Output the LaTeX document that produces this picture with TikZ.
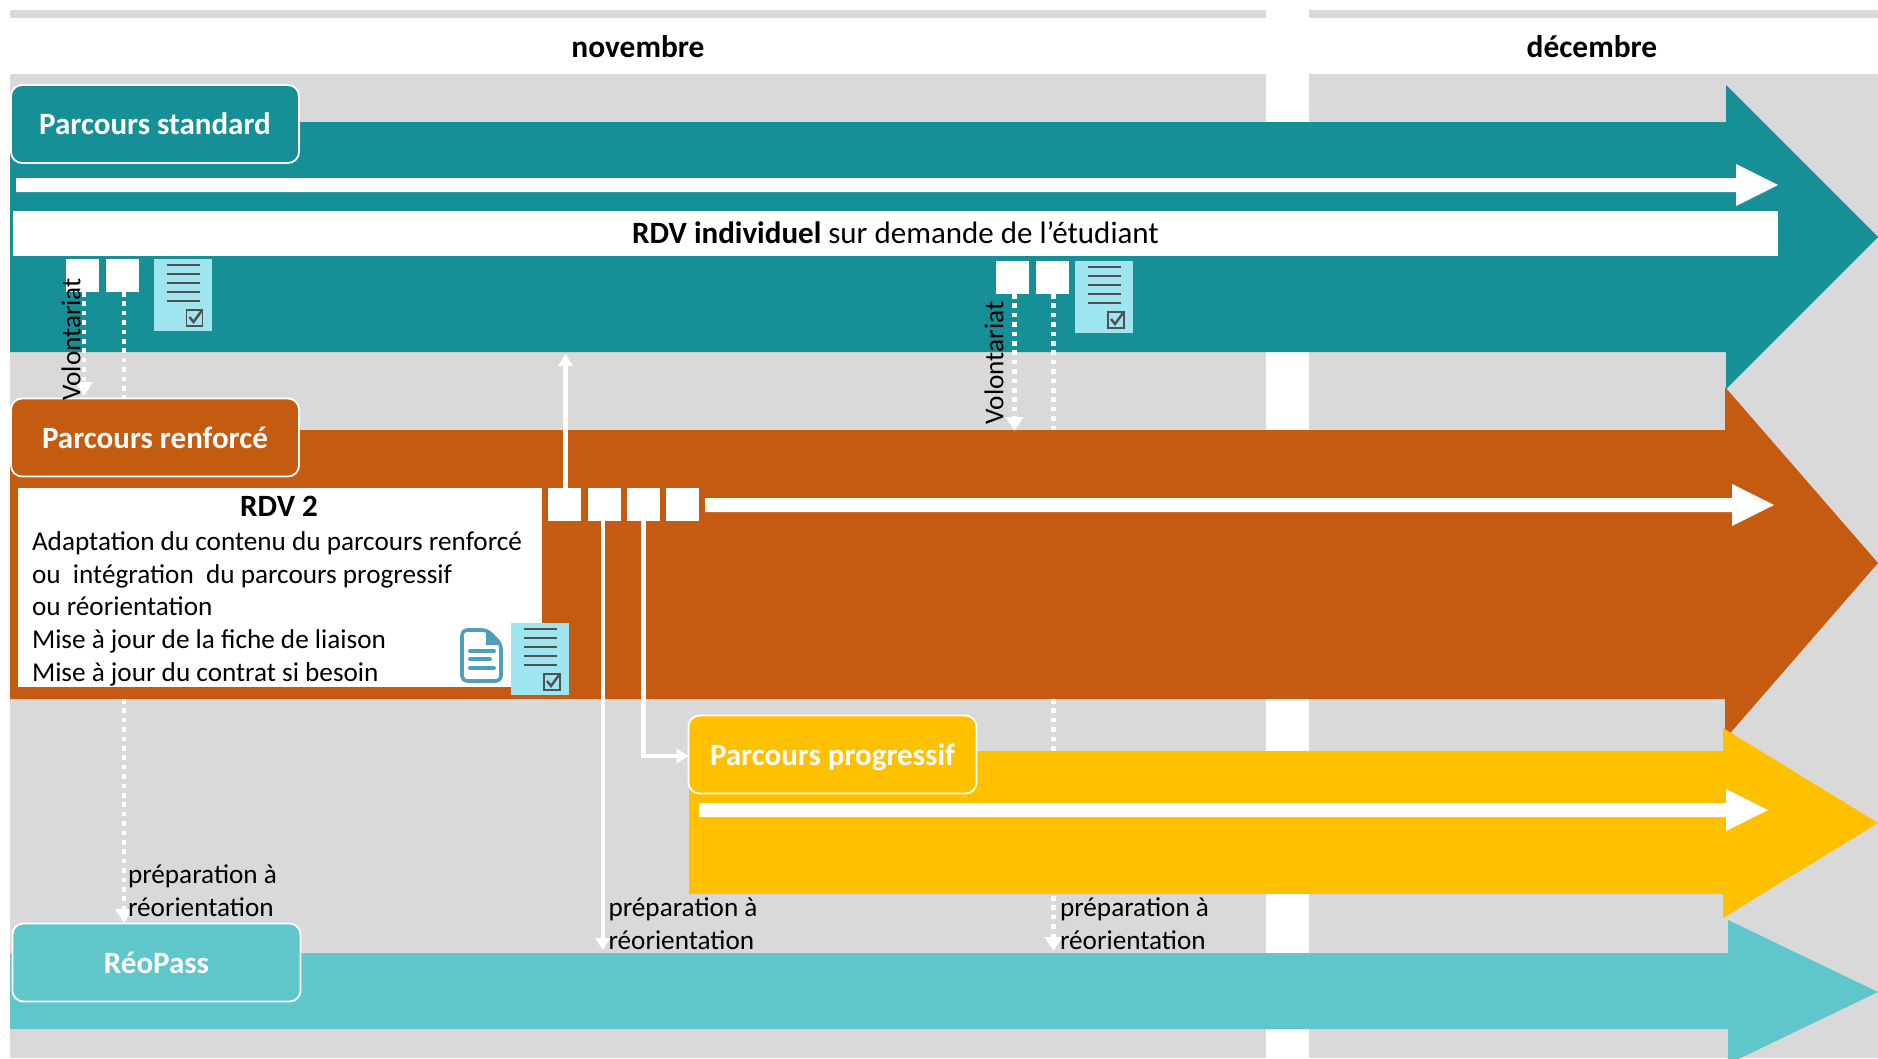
\documentclass[tikz,border=0pt]{standalone}
\usepackage{fontspec}
\setmainfont{Carlito}
\usetikzlibrary{arrows.meta}
\definecolor{tealA}{HTML}{178F96}
\definecolor{orangeA}{HTML}{C55A11}
\definecolor{yellowA}{HTML}{FFC000}
\definecolor{tealB}{HTML}{5FC6CC}
\definecolor{greyA}{HTML}{D9D9D9}
\definecolor{sheetA}{HTML}{9FE5F0}
\definecolor{inkA}{HTML}{505050}
\definecolor{iconA}{HTML}{4F9FB8}
\tikzset{
  x=1pt,y=-1pt,
  body/.style={inner sep=0,outer sep=0,anchor=base west,font=\fontsize{27.2}{30}\selectfont,text=black},
  month/.style={inner sep=0,outer sep=0,font=\fontsize{31.4}{34}\selectfont\bfseries,text=black},
  tag/.style={draw=white,line width=1.8pt,rounded corners=11pt,minimum width=288pt,minimum height=78pt,inner sep=0,outer sep=0,text=white,font=\fontsize{31}{34}\selectfont\bfseries},
  sq/.style={fill=white,minimum width=33pt,minimum height=33pt,inner sep=0,outer sep=0},
  dots/.style={draw=white,line width=4.6pt,dash pattern=on 4.6pt off 4.8pt},
  solidl/.style={draw=white,line width=4.4pt},
  tipped/.style={-{Triangle[length=14pt,width=17pt]}},
  vol/.style={rotate=90,inner sep=0,outer sep=0,font=\fontsize{27.2}{30}\selectfont,text=black},
  docsheet/.pic={
    \fill[sheetA] (0,0) rectangle (58,72);
    \foreach \yy in {6,15,24,33,42}
      \draw[inkA,line width=2.2pt] (13,\yy) -- (46,\yy);
    \draw[inkA,line width=1.9pt] (33,51) rectangle (49,67);
    \draw[inkA,line width=2.4pt] (36,58) -- (40,63) -- (48,52);
  }
}
\begin{document}
\begin{tikzpicture}
\useasboundingbox (0,0) rectangle (1878,1058);
\fill[white] (0,0) rectangle (1878,1058);
% grey bands
\fill[greyA] (10,10) rectangle (1266,18);
\fill[greyA] (1309,10) rectangle (1878,18);
\fill[greyA] (10,74) rectangle (1266,1058);
\fill[greyA] (1309,74) rectangle (1878,1058);
\node[month] (nov) at (638,47) {novembre};
\node[month] (dec) at (1592,47) {décembre};
% big arrows
\fill[orangeA] (10,430) -- (1725,430) -- (1725,387) -- (1878,563) -- (1725,739) -- (1725,699) -- (10,699) -- cycle;
\fill[tealA] (10,122) -- (1726,122) -- (1726,85) -- (1878,237) -- (1726,389) -- (1726,352) -- (10,352) -- cycle;
\fill[yellowA] (689,751) -- (1723,751) -- (1723,728) -- (1878,823) -- (1723,918) -- (1723,894) -- (689,894) -- cycle;
\fill[tealB] (10,953) -- (1728,953) -- (1728,920) -- (1878,992) -- (1728,1064) -- (1728,1029) -- (10,1029) -- cycle;
% white inner arrows
\fill[white] (16,178) -- (1736,178) -- (1736,164) -- (1778,185) -- (1736,206) -- (1736,192) -- (16,192) -- cycle;
\fill[white] (705,498) -- (1732,498) -- (1732,484) -- (1774,505) -- (1732,526) -- (1732,512) -- (705,512) -- cycle;
\fill[white] (699,803) -- (1726,803) -- (1726,789) -- (1768,810) -- (1726,831) -- (1726,817) -- (699,817) -- cycle;
% RDV band
\node[fill=white,minimum width=1765pt,minimum height=45pt,inner sep=0,outer sep=0,font=\fontsize{31}{34}\selectfont] (rdv) at (895.5,233) {\textbf{RDV individuel} sur demande de l’étudiant};
% squares
\node[sq] (a1) at (82,275.5) {};
\node[sq] (a2) at (122.5,275.5) {};
\node[sq] (b1) at (1012.5,277.5) {};
\node[sq] (b2) at (1052.5,277.5) {};
\node[sq] (c1) at (564.5,504.5) {};
\node[sq] (c2) at (604,504.5) {};
\node[sq] (c3) at (643.5,504.5) {};
\node[sq] (c4) at (682,504.5) {};
\pic at (153.5,259) {docsheet};
\pic at (1075,261) {docsheet};
% end points
\coordinate (e1) at (84,396);
\coordinate (e2) at (124,399);
\coordinate (e3) at (1014.5,431);
\coordinate (e4) at (1053.5,430);
\coordinate (e5) at (565.5,354);
\coordinate (e6) at (602.7,950);
\coordinate (e7) at (643.5,756);
\coordinate (f1) at (124,699);
\coordinate (f2) at (124,923);
\coordinate (f3) at (1053.5,699);
\coordinate (f4) at (1053.5,751);
\coordinate (f5) at (1053.5,896);
\coordinate (f6) at (1053.5,951);
% dotted connectors
\draw[dots,tipped] (e1 |- a1.south) -- (e1);
\draw[dots] (e2 |- a2.south) -- (e2);
\draw[dots,tipped] (e3 |- b1.south) -- (e3);
\draw[dots] (e4 |- b2.south) -- (e4);
\draw[dots,tipped] (f1) -- (f2);
\draw[dots] (f3) -- (f4);
\draw[dots,tipped] (f5) -- (f6);
% solid connectors
\draw[solidl,-{Triangle[length=12pt,width=14pt]}] (e5 |- c1.north) -- (e5);
\draw[solidl,-{Triangle[length=12pt,width=14pt]}] (e6 |- c2.south) -- (e6);
% RDV 2 box
\node[fill=white,minimum width=524pt,minimum height=199pt,inner sep=0,outer sep=0] (rdvb) at (280,587.5) {};
\node[inner sep=0,outer sep=0,font=\fontsize{31}{34}\selectfont\bfseries] (rdvt) at (279,506.5) {RDV 2};
\node[body] (l1) at (32,550) {Adaptation du contenu du parcours renforcé};
\node[body] (l2) at (32,583) {ou~ intégration~ du parcours progressif};
\node[body] (l3) at (32,615) {ou réorientation};
\node[body] (l4) at (32,648) {Mise à jour de la fiche de liaison};
\node[body] (l5) at (32,681) {Mise à jour du contrat si besoin};
% file icon
\draw[iconA,line width=3.6pt,line join=round,fill=white,rounded corners=5pt] (462,630) -- (487,630) -- (501,644) -- (501,681) -- (462,681) -- cycle;
\fill[iconA] (486,630) -- (486,645) -- (501,645) -- cycle;
\foreach \yy/\xe in {651/494,659/490,668/494}
  \draw[iconA,line width=3.8pt,line cap=round] (470,\yy) -- (\xe,\yy);
\pic at (511,623) {docsheet};
% tags
\node[tag,fill=tealA] (t1) at (155,124) {Parcours standard};
\node[tag,fill=orangeA] (t2) at (155,437.5) {Parcours renforcé};
\node[tag,fill=yellowA] (t3) at (832.5,754.5) {\raisebox{-2.5pt}[\height][\depth]{Parcours progressif}};
\node[tag,fill=tealB] (t4) at (156.5,962.5) {RéoPass};
% elbow connector
\draw[solidl,-{Triangle[length=12pt,width=14pt]}] (e7 |- c3.south) |- (t3.west |- e7);
% labels
\node[vol] (v1) at (71,339.5) {Volontariat};
\node[vol] (v2) at (994,363) {Volontariat};
\node[body] (p1) at (128,883) {préparation à};
\node[body] (r1) at (128,916) {réorientation};
\node[body] (p2) at (608.5,916) {préparation à};
\node[body] (r2) at (608.5,949) {réorientation};
\node[body] (p3) at (1060,916) {préparation à};
\node[body] (r3) at (1060,949) {réorientation};
\end{tikzpicture}
\end{document}
